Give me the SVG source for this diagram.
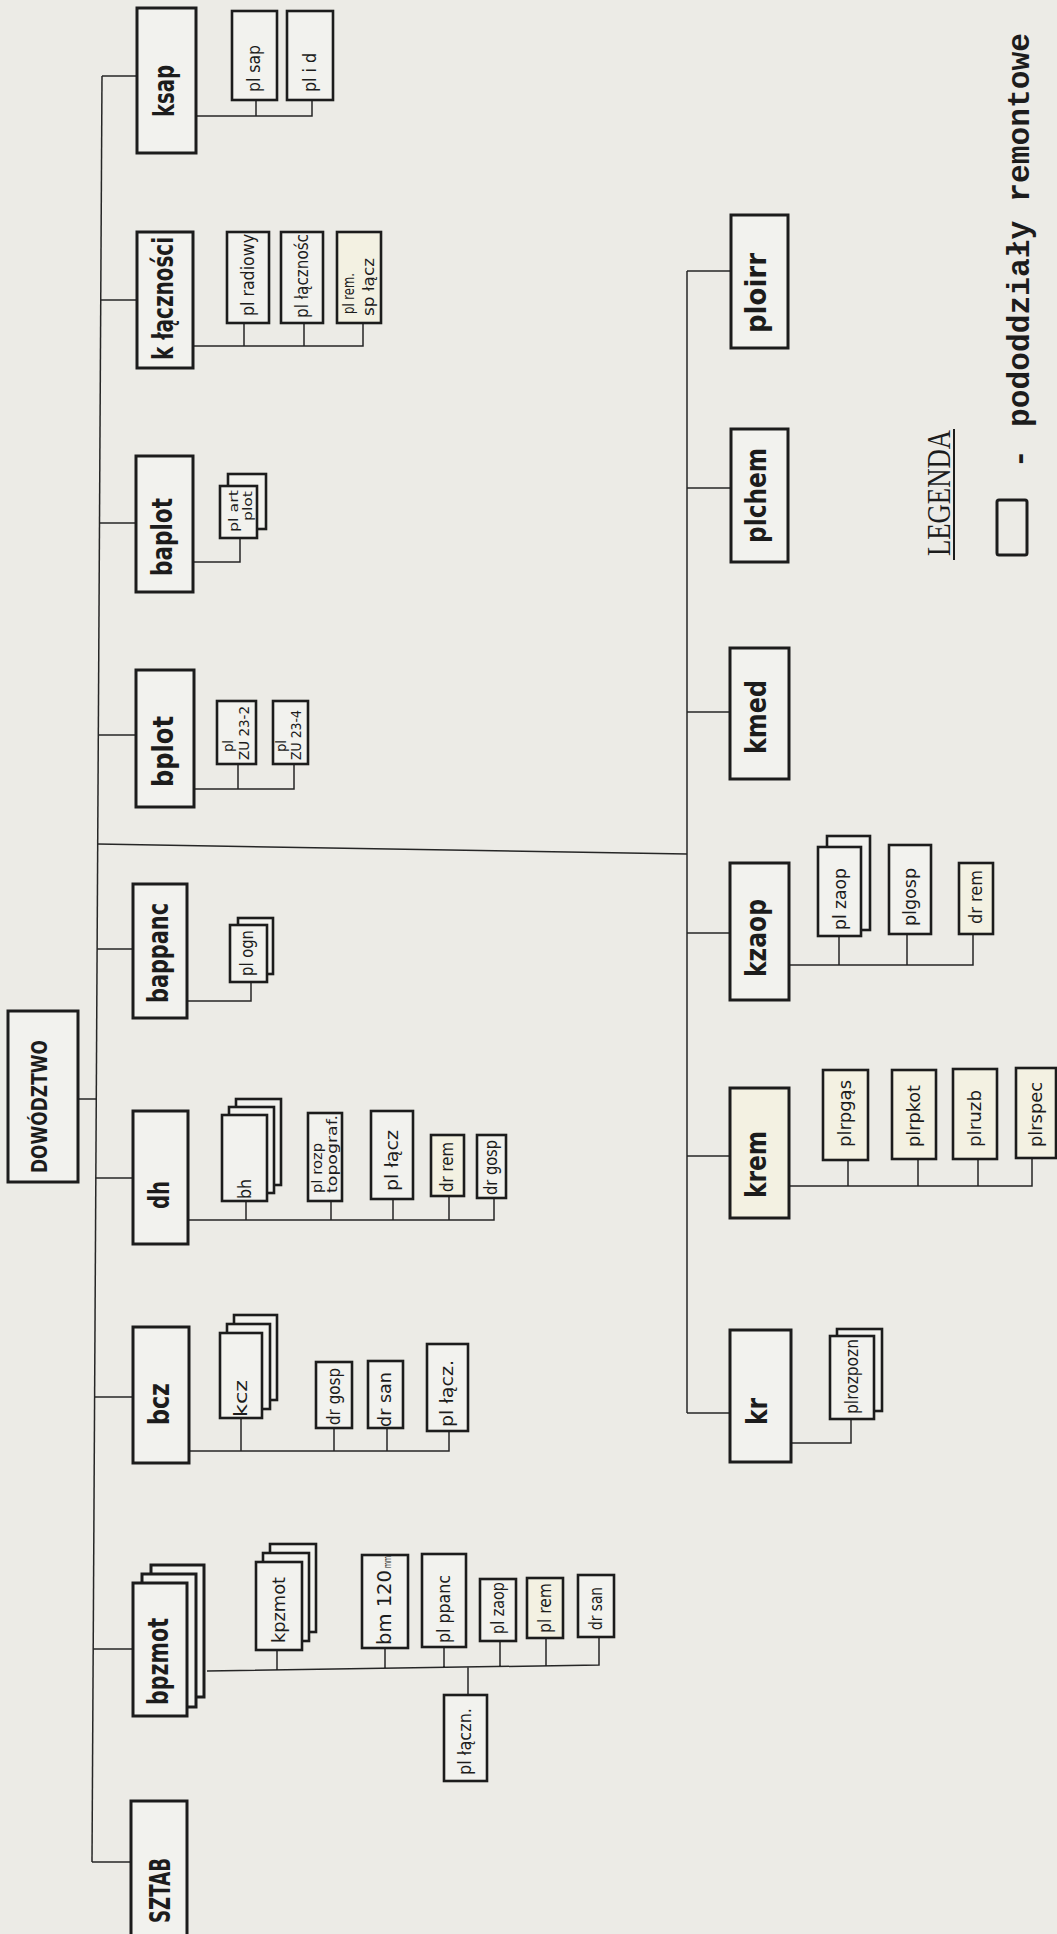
<svg xmlns="http://www.w3.org/2000/svg" width="1057" height="1934" viewBox="0 0 1057 1934">
<style>
.mb{fill:#f2f2ee;stroke:#1c1c1c;stroke-width:3}
.sb{fill:#f2f2ee;stroke:#1c1c1c;stroke-width:2.6}
.ml{font-family:"DejaVu Sans",sans-serif;font-weight:bold;font-size:29px;fill:#1c1c1c}
.sl{font-family:"DejaVu Sans",sans-serif;font-size:18px;fill:#1c1c1c}
.s2{font-family:"DejaVu Sans",sans-serif;font-size:14px;fill:#1c1c1c}
.cn path{stroke:#262626;stroke-width:1.5;fill:none}
.lg{font-family:"Liberation Serif",serif;font-size:34px;fill:#1c1c1c}
.lm{font-family:"Liberation Mono",monospace;font-size:31px;font-weight:bold;fill:#1c1c1c}
</style>
<rect x="0" y="0" width="1057" height="1934" fill="#ecebe6"/>
<g id="connectors" class="cn">
<path d="M102,76 L92,1862"/>
<path d="M102,76 H137"/>
<path d="M100.7,300 H137"/>
<path d="M99.5,523 H136"/>
<path d="M98.3,735 H136"/>
<path d="M97.1,949 H133"/>
<path d="M78,1099 H96.3"/>
<path d="M95.8,1178 H133"/>
<path d="M94.6,1397 H133"/>
<path d="M93.2,1649 H133"/>
<path d="M92,1862 H131"/>
<path d="M97.7,844 L687,854"/>
<path d="M687,271 V1413"/>
<path d="M687,271 H731"/>
<path d="M687,488 H731"/>
<path d="M687,712 H730"/>
<path d="M687,933 H730"/>
<path d="M687,1156 H730"/>
<path d="M687,1413 H730"/>
<path d="M196,116 H312 V100 M256,100 V116"/>
<path d="M193,346 H363 V323 M244,323 V346 M304,323 V346"/>
<path d="M193,562 H240 V538"/>
<path d="M194,789 H294 V764 M238,764 V789"/>
<path d="M187,1001 H251 V982"/>
<path d="M188,1220 H494 V1198 M246,1201 V1220 M331,1201 V1220 M393,1199 V1220 M449,1196 V1220"/>
<path d="M189,1451 H449 V1431 M241,1418 V1451 M334,1428 V1451 M387,1428 V1451"/>
<path d="M207,1671 L599,1665 V1637 M277,1650 V1670 M385,1648 V1668.3 M444,1647 V1667.5 M500,1641 V1666.5 M546,1638 V1665.8 M468,1667.2 V1695"/>
<path d="M789,965 H973 V934 M839,936 V965 M907,934 V965"/>
<path d="M789,1186 H1032 V1158 M848,1160 V1186 M918,1159 V1186 M978,1159 V1186"/>
<path d="M791,1443 H851 V1419"/>
</g>

<g id="dowodztwo">
<rect class="mb" x="8" y="1011" width="70" height="171"/>
<text class="ml" style="font-size:22px" transform="translate(47,1173) rotate(-90)" textLength="133" lengthAdjust="spacingAndGlyphs">DOWÓDZTWO</text>
</g>

<g id="ksap">
<rect class="mb" x="137" y="8" width="59" height="145"/>
<text class="ml" transform="translate(174,117) rotate(-90)" textLength="52" lengthAdjust="spacingAndGlyphs">ksap</text>
</g>
<g id="pl-sap">
<rect class="sb" x="232" y="11" width="45" height="89"/>
<text class="sl" transform="translate(260,92) rotate(-90)" textLength="47" lengthAdjust="spacingAndGlyphs">pl sap</text>
</g>
<g id="pl-i-d">
<rect class="sb" x="287" y="11" width="46" height="89"/>
<text class="sl" transform="translate(316,92) rotate(-90)" textLength="39" lengthAdjust="spacingAndGlyphs">pl i d</text>
</g>

<g id="k-lacznosci">
<rect class="mb" x="137" y="232" width="56" height="136"/>
<text class="ml" transform="translate(173,360) rotate(-90)" textLength="123" lengthAdjust="spacingAndGlyphs">k łączności</text>
</g>
<g id="pl-radiowy">
<rect class="sb" x="227" y="232" width="42" height="91"/>
<text class="sl" transform="translate(254,316) rotate(-90)" textLength="82" lengthAdjust="spacingAndGlyphs">pl radiowy</text>
</g>
<g id="pl-lacznosci">
<rect class="sb" x="281" y="232" width="42" height="91"/>
<text class="sl" transform="translate(308,318) rotate(-90)" textLength="84" lengthAdjust="spacingAndGlyphs">pl łącznośc</text>
</g>
<g id="pl-rem-sp-lacz">
<rect class="sb" x="337" y="232" width="44" height="91" style="fill:#f3f1e2"/>
<text class="s2" style="font-size:15px" transform="translate(354,314) rotate(-90)" textLength="41" lengthAdjust="spacingAndGlyphs">pl rem.</text>
<text class="s2" style="font-size:15px" transform="translate(374,316) rotate(-90)" textLength="58" lengthAdjust="spacingAndGlyphs">sp łącz</text>
</g>

<g id="baplot">
<rect class="mb" x="136" y="456" width="57" height="136"/>
<text class="ml" transform="translate(172,576) rotate(-90)" textLength="78" lengthAdjust="spacingAndGlyphs">baplot</text>
</g>
<g id="pl-art-plot">
<rect class="sb" x="228" y="474" width="38" height="55"/>
<rect class="sb" x="220" y="486" width="37" height="52"/>
<text class="s2" style="font-size:13px" transform="translate(238,532) rotate(-90)" textLength="42" lengthAdjust="spacingAndGlyphs">pl art</text>
<text class="s2" style="font-size:13px" transform="translate(252,521) rotate(-90)" textLength="30" lengthAdjust="spacingAndGlyphs">plot</text>
</g>

<g id="bplot">
<rect class="mb" x="136" y="670" width="58" height="137"/>
<text class="ml" transform="translate(173,787) rotate(-90)" textLength="71" lengthAdjust="spacingAndGlyphs">bplot</text>
</g>
<g id="pl-zu23-2">
<rect class="sb" x="217" y="701" width="39" height="63"/>
<text class="s2" transform="translate(233,752) rotate(-90)" textLength="12" lengthAdjust="spacingAndGlyphs">pl</text>
<text class="s2" transform="translate(249,760) rotate(-90)" textLength="54" lengthAdjust="spacingAndGlyphs">ZU 23-2</text>
</g>
<g id="pl-zu23-4">
<rect class="sb" x="273" y="701" width="35" height="63"/>
<text class="s2" transform="translate(286,752) rotate(-90)" textLength="12" lengthAdjust="spacingAndGlyphs">pl</text>
<text class="s2" transform="translate(301,760) rotate(-90)" textLength="50" lengthAdjust="spacingAndGlyphs">ZU 23-4</text>
</g>

<g id="bappanc">
<rect class="mb" x="133" y="884" width="54" height="134"/>
<text class="ml" transform="translate(168,1003) rotate(-90)" textLength="100" lengthAdjust="spacingAndGlyphs">bappanc</text>
</g>
<g id="pl-ogn">
<rect class="sb" x="238" y="918" width="35" height="56"/>
<rect class="sb" x="230" y="925" width="37" height="57"/>
<text class="sl" transform="translate(253,976) rotate(-90)" textLength="46" lengthAdjust="spacingAndGlyphs">pl ogn</text>
</g>

<g id="dh">
<rect class="mb" x="133" y="1111" width="55" height="133"/>
<text class="ml" transform="translate(169,1209) rotate(-90)" textLength="28" lengthAdjust="spacingAndGlyphs">dh</text>
</g>
<g id="bh">
<rect class="sb" x="236" y="1099" width="45" height="86"/>
<rect class="sb" x="229" y="1107" width="45" height="86"/>
<rect class="sb" x="222" y="1115" width="45" height="86"/>
<text class="sl" transform="translate(251,1199) rotate(-90)" textLength="20" lengthAdjust="spacingAndGlyphs">bh</text>
</g>
<g id="pl-rozp-topograf">
<rect class="sb" x="308" y="1113" width="34" height="88"/>
<text class="s2" transform="translate(322,1193) rotate(-90)" textLength="50" lengthAdjust="spacingAndGlyphs">pl rozp</text>
<text class="s2" transform="translate(337,1193) rotate(-90)" textLength="78" lengthAdjust="spacingAndGlyphs">topograf.</text>
</g>
<g id="pl-lacz-dh">
<rect class="sb" x="371" y="1111" width="42" height="88"/>
<text class="sl" transform="translate(398,1191) rotate(-90)" textLength="61" lengthAdjust="spacingAndGlyphs">pl łącz</text>
</g>
<g id="dr-rem-dh">
<rect class="sb" x="431" y="1135" width="33" height="61" style="fill:#f3f1e2"/>
<text class="sl" transform="translate(453,1192) rotate(-90)" textLength="50" lengthAdjust="spacingAndGlyphs">dr rem</text>
</g>
<g id="dr-gosp-dh">
<rect class="sb" x="477" y="1135" width="29" height="63"/>
<text class="sl" transform="translate(497,1195) rotate(-90)" textLength="55" lengthAdjust="spacingAndGlyphs">dr gosp</text>
</g>

<g id="bcz">
<rect class="mb" x="133" y="1327" width="56" height="136"/>
<text class="ml" transform="translate(169,1425) rotate(-90)" textLength="42" lengthAdjust="spacingAndGlyphs">bcz</text>
</g>
<g id="kcz">
<rect class="sb" x="234" y="1315" width="43" height="85"/>
<rect class="sb" x="227" y="1324" width="43" height="85"/>
<rect class="sb" x="220" y="1333" width="42" height="85"/>
<text class="sl" transform="translate(247,1417) rotate(-90)" textLength="37" lengthAdjust="spacingAndGlyphs">kcz</text>
</g>
<g id="dr-gosp-bcz">
<rect class="sb" x="316" y="1362" width="36" height="66"/>
<text class="sl" transform="translate(340,1425) rotate(-90)" textLength="57" lengthAdjust="spacingAndGlyphs">dr gosp</text>
</g>
<g id="dr-san-bcz">
<rect class="sb" x="368" y="1361" width="35" height="67"/>
<text class="sl" transform="translate(391,1427) rotate(-90)" textLength="55" lengthAdjust="spacingAndGlyphs">dr san</text>
</g>
<g id="pl-lacz-bcz">
<rect class="sb" x="427" y="1344" width="41" height="87"/>
<text class="sl" transform="translate(453,1427) rotate(-90)" textLength="67" lengthAdjust="spacingAndGlyphs">pl łącz.</text>
</g>

<g id="bpzmot">
<rect class="mb" x="151" y="1565" width="53" height="132"/>
<rect class="mb" x="142" y="1574" width="54" height="133"/>
<rect class="mb" x="133" y="1583" width="54" height="133"/>
<text class="ml" transform="translate(168,1705) rotate(-90)" textLength="87" lengthAdjust="spacingAndGlyphs">bpzmot</text>
</g>
<g id="kpzmot">
<rect class="sb" x="270" y="1544" width="46" height="88"/>
<rect class="sb" x="263" y="1553" width="46" height="88"/>
<rect class="sb" x="256" y="1562" width="46" height="88"/>
<text class="sl" transform="translate(285,1643) rotate(-90)" textLength="66" lengthAdjust="spacingAndGlyphs">kpzmot</text>
</g>
<g id="bm-120">
<rect class="sb" x="362" y="1555" width="46" height="93"/>
<text class="sl" style="font-size:19px" transform="translate(391,1645) rotate(-90)" textLength="75" lengthAdjust="spacingAndGlyphs">bm 120</text>
<text class="s2" style="font-size:10px" transform="translate(391,1568) rotate(-90)" textLength="12" lengthAdjust="spacingAndGlyphs">mm</text>
</g>
<g id="pl-ppanc">
<rect class="sb" x="422" y="1554" width="44" height="93"/>
<text class="sl" transform="translate(450,1643) rotate(-90)" textLength="68" lengthAdjust="spacingAndGlyphs">pl ppanc</text>
</g>
<g id="pl-zaop-bpz">
<rect class="sb" x="480" y="1579" width="36" height="62"/>
<text class="sl" transform="translate(504,1634) rotate(-90)" textLength="52" lengthAdjust="spacingAndGlyphs">pl zaop</text>
</g>
<g id="pl-rem-bpz">
<rect class="sb" x="527" y="1578" width="36" height="60" style="fill:#f3f1e2"/>
<text class="sl" transform="translate(551,1633) rotate(-90)" textLength="50" lengthAdjust="spacingAndGlyphs">pl rem</text>
</g>
<g id="dr-san-bpz">
<rect class="sb" x="578" y="1575" width="36" height="62"/>
<text class="sl" transform="translate(602,1630) rotate(-90)" textLength="43" lengthAdjust="spacingAndGlyphs">dr san</text>
</g>
<g id="pl-laczn">
<rect class="sb" x="444" y="1695" width="43" height="86"/>
<text class="sl" transform="translate(471,1775) rotate(-90)" textLength="67" lengthAdjust="spacingAndGlyphs">pl łączn.</text>
</g>

<g id="sztab">
<rect class="mb" x="131" y="1801" width="56" height="140"/>
<text class="ml" transform="translate(170,1923) rotate(-90)" textLength="65" lengthAdjust="spacingAndGlyphs">SZTAB</text>
</g>

<g id="ploirr">
<rect class="mb" x="731" y="215" width="57" height="133"/>
<text class="ml" transform="translate(766,333) rotate(-90)" textLength="80" lengthAdjust="spacingAndGlyphs">ploirr</text>
</g>
<g id="plchem">
<rect class="mb" x="731" y="429" width="57" height="133"/>
<text class="ml" transform="translate(766,543) rotate(-90)" textLength="95" lengthAdjust="spacingAndGlyphs">plchem</text>
</g>
<g id="kmed">
<rect class="mb" x="730" y="648" width="59" height="131"/>
<text class="ml" transform="translate(766,754) rotate(-90)" textLength="74" lengthAdjust="spacingAndGlyphs">kmed</text>
</g>
<g id="kzaop">
<rect class="mb" x="730" y="863" width="59" height="137"/>
<text class="ml" transform="translate(766,977) rotate(-90)" textLength="78" lengthAdjust="spacingAndGlyphs">kzaop</text>
</g>
<g id="pl-zaop-k">
<rect class="sb" x="827" y="836" width="43" height="94"/>
<rect class="sb" x="818" y="847" width="43" height="89"/>
<text class="sl" transform="translate(846,930) rotate(-90)" textLength="62" lengthAdjust="spacingAndGlyphs">pl zaop</text>
</g>
<g id="plgosp">
<rect class="sb" x="889" y="845" width="42" height="89"/>
<text class="sl" transform="translate(916,926) rotate(-90)" textLength="58" lengthAdjust="spacingAndGlyphs">plgosp</text>
</g>
<g id="dr-rem-k">
<rect class="sb" x="959" y="863" width="34" height="71" style="fill:#f3f1e2"/>
<text class="sl" transform="translate(982,924) rotate(-90)" textLength="54" lengthAdjust="spacingAndGlyphs">dr rem</text>
</g>

<g id="krem">
<rect class="mb" x="730" y="1088" width="59" height="130" style="fill:#f3f1e2"/>
<text class="ml" transform="translate(766,1198) rotate(-90)" textLength="67" lengthAdjust="spacingAndGlyphs">krem</text>
</g>
<g id="plrpgas">
<rect class="sb" x="823" y="1070" width="45" height="90" style="fill:#f3f1e2"/>
<text class="sl" transform="translate(851,1147) rotate(-90)" textLength="67" lengthAdjust="spacingAndGlyphs">plrpgąs</text>
</g>
<g id="plrpkot">
<rect class="sb" x="892" y="1070" width="44" height="89" style="fill:#f3f1e2"/>
<text class="sl" transform="translate(920,1147) rotate(-90)" textLength="62" lengthAdjust="spacingAndGlyphs">plrpkot</text>
</g>
<g id="plruzb">
<rect class="sb" x="953" y="1069" width="44" height="90" style="fill:#f3f1e2"/>
<text class="sl" transform="translate(981,1147) rotate(-90)" textLength="57" lengthAdjust="spacingAndGlyphs">plruzb</text>
</g>
<g id="plrspec">
<rect class="sb" x="1016" y="1068" width="40" height="90" style="fill:#f3f1e2"/>
<text class="sl" transform="translate(1042,1147) rotate(-90)" textLength="65" lengthAdjust="spacingAndGlyphs">plrspec</text>
</g>

<g id="kr">
<rect class="mb" x="730" y="1330" width="61" height="132"/>
<text class="ml" transform="translate(767,1425) rotate(-90)" textLength="27" lengthAdjust="spacingAndGlyphs">kr</text>
</g>
<g id="plrozpozn">
<rect class="sb" x="837" y="1329" width="45" height="82"/>
<rect class="sb" x="830" y="1336" width="44" height="83"/>
<text class="sl" transform="translate(858,1414) rotate(-90)" textLength="75" lengthAdjust="spacingAndGlyphs">plrozpozn</text>
</g>

<g id="legend">
<text class="lg" transform="translate(950,556) rotate(-90)" textLength="126" lengthAdjust="spacingAndGlyphs">LEGENDA</text>
<path d="M954,429 V560" stroke="#1c1c1c" stroke-width="2" fill="none"/>
<rect x="997" y="500" width="30" height="55" rx="2" fill="#ecebe6" stroke="#1c1c1c" stroke-width="3"/>
<text class="lm" transform="translate(1029,468) rotate(-90)">-</text>
<text class="lm" transform="translate(1029,427) rotate(-90)" textLength="394" lengthAdjust="spacingAndGlyphs">pododdziały remontowe</text>
</g>
</svg>
